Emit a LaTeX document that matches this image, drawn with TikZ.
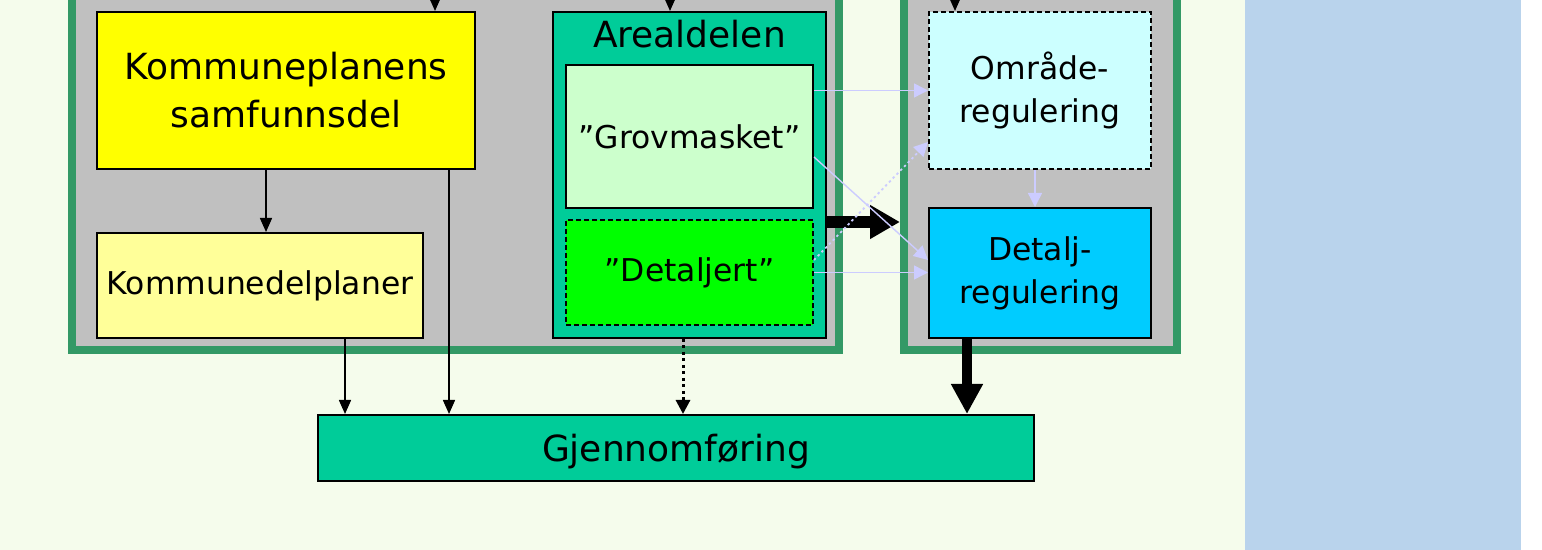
\documentclass[tikz,border=0pt]{standalone}
\usepackage{fontspec}
\setmainfont{DejaVu Sans}
\usetikzlibrary{arrows.meta}

\definecolor{bgcream}{HTML}{F5FCEC}
\definecolor{sideblue}{HTML}{B9D3EC}
\definecolor{frgreen}{HTML}{339966}
\definecolor{frgrey}{HTML}{C0C0C0}
\definecolor{brightyellow}{HTML}{FFFF00}
\definecolor{teal}{HTML}{00CC99}
\definecolor{paleyellow}{HTML}{FFFF99}
\definecolor{palegreen}{HTML}{CCFFCC}
\definecolor{brightgreen}{HTML}{00FF00}
\definecolor{palecyan}{HTML}{CCFFFF}
\definecolor{skycyan}{HTML}{00CCFF}
\definecolor{lilac}{HTML}{CCCCFF}

\tikzset{
  grp/.style={draw=frgreen, fill=frgrey, line width=4pt},
  box/.style={draw=black, line width=1pt, align=center, inner sep=0pt},
  bigtxt/.style={font=\fontsize{18}{24}\selectfont},
  smalltxt/.style={font=\fontsize{15.7}{21.5}\selectfont},
  dashbox/.style={box, dash pattern=on 2.5pt off 1.5pt},
  arr/.style={line width=0.75pt, -{Triangle[length=7pt,width=6pt]}},
  dotarr/.style={line width=1.5pt, dash pattern=on 1.5pt off 1.75pt, -{Triangle[length=7pt,width=7pt]}},
  fatarr/.style={line width=5pt, -{Triangle[length=15pt,width=15pt]}},
  lilacarr/.style={draw=lilac, line width=0.7pt, -{Triangle[length=7pt,width=7pt]}}
}

\begin{document}
\begin{tikzpicture}[x=0.5pt,y=-0.5pt]
  \useasboundingbox (0,0) rectangle (1542,550);
  \clip (0,0) rectangle (1542,550);
  \fill[bgcream] (0,0) rectangle (1245,550);
  \fill[sideblue] (1245,0) rectangle (1521,550);

  % groups
  \node[grp, minimum width=383.5pt, minimum height=185pt] (leftgrp) at (455.5,165) {};
  \node[grp, minimum width=136.5pt, minimum height=185pt] (rightgrp) at (1040.5,165) {};

  % boxes
  \node[box, bigtxt, fill=brightyellow, minimum width=189pt, minimum height=78.5pt] (samf) at (286,90.5) {Kommuneplanens\\samfunnsdel};
  \node[box, smalltxt, fill=paleyellow, minimum width=163pt, minimum height=52.5pt] (delpl) at (260,285.5) {Kommunedelplaner};
  \node[box, fill=teal, minimum width=136.5pt, minimum height=163pt,
        label={[bigtxt, anchor=center, yshift=-11.5pt]north:Arealdelen}] (areal) at (689.5,175) {};
  \node[box, smalltxt, fill=palegreen, minimum width=123.5pt, minimum height=71.5pt] (grov) at (689.5,136.5) {”Grovmasket”};
  \node[dashbox, smalltxt, fill=brightgreen, minimum width=123.5pt, minimum height=52.5pt] (detj) at (689.5,272.5) {”Detaljert”};
  \node[dashbox, smalltxt, fill=palecyan, minimum width=111pt, minimum height=78.5pt] (omr) at (1040,90.5) {Område-\\regulering};
  \node[box, smalltxt, fill=skycyan, minimum width=111pt, minimum height=65pt] (detr) at (1040,273) {Detalj-\\regulering};
  \node[box, bigtxt, fill=teal, text depth=0pt, minimum width=358pt, minimum height=33pt] (gjen) at (676,448) {Gjennomføring};

  % inputs from above
  \coordinate (in1) at (435,-10);
  \coordinate (in2) at (670,-10);
  \coordinate (in3) at (955,-10);
  \draw[arr] (in1) -- (in1 |- samf.north);
  \draw[arr] (in2) -- (in2 |- areal.north);
  \draw[arr] (in3) -- (in3 |- omr.north);

  \draw[arr] (samf.south -| 266,0) -- (delpl.north -| 266,0);
  \draw[arr] (samf.south -| 449,0) -- (gjen.north -| 449,0);
  \draw[arr] (delpl.south -| 345,0) -- (gjen.north -| 345,0);
  \draw[dotarr] (areal.south -| 683,0) -- (gjen.north -| 683,0);
  \draw[fatarr] (detr.south -| 967,0) -- (gjen.north -| 967,0);
  \draw[line width=6pt, -{Triangle[length=15pt,width=16pt]}] (areal.east |- 0,222) -- (rightgrp.west |- 0,222);

  % links into regulering
  \draw[lilacarr] (grov.east |- omr.west) -- (omr.west);
  \draw[lilacarr] (grov.east |- 0,157) -- (detr.west |- 0,260);
  \draw[lilacarr, line width=0.9pt, dash pattern=on 1.2pt off 1.5pt] (detj.east |- 0,260) -- (omr.west |- 0,142);
  \draw[lilacarr] (detj.east) -- (detj.east -| detr.west);
  \draw[lilacarr] (omr.south -| 1035,0) -- (detr.north -| 1035,0);
\end{tikzpicture}
\end{document}
